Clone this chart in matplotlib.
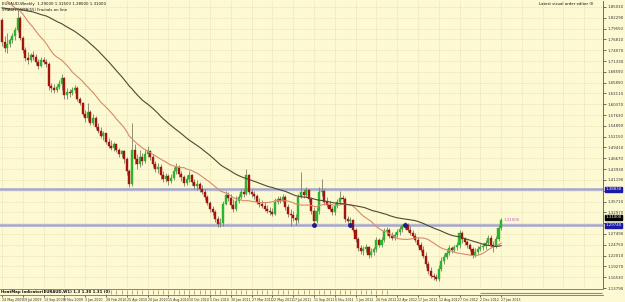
import numpy as np
import pandas as pd
import matplotlib
matplotlib.use('Agg')
import matplotlib.pyplot as plt

# weekly closes before the first visible bar (only feed the moving averages)
prior_close = [1.80, 1.81, 1.82, 1.80, 1.79, 1.81, 1.83, 1.82, 1.80, 1.79,
               1.78, 1.80, 1.82, 1.84, 1.83, 1.81, 1.80, 1.82, 1.84, 1.85,
               1.83, 1.82, 1.84, 1.86, 1.85, 1.83, 1.84, 1.86, 1.88, 1.87,
               1.85, 1.86, 1.88, 1.90, 1.89, 1.87, 1.88, 1.90, 1.91, 1.89,
               1.88, 1.90, 1.92, 1.91, 1.89, 1.88, 1.90, 1.89, 1.87, 1.86,
               1.88, 1.87, 1.85, 1.818]

close = [1.762, 1.747, 1.757, 1.767, 1.777, 1.792, 1.823, 1.772, 1.742, 1.722,
         1.717, 1.729, 1.724, 1.711, 1.701, 1.717, 1.711, 1.706, 1.651, 1.646,
         1.641, 1.648, 1.656, 1.671, 1.626, 1.636, 1.631, 1.641, 1.646, 1.618,
         1.608, 1.580, 1.568, 1.585, 1.557, 1.570, 1.547, 1.537, 1.522, 1.530,
         1.509, 1.499, 1.494, 1.502, 1.489, 1.477, 1.484, 1.464, 1.434, 1.401,
         1.489, 1.464, 1.451, 1.469, 1.459, 1.477, 1.484, 1.469, 1.451, 1.439,
         1.444, 1.424, 1.414, 1.421, 1.408, 1.416, 1.434, 1.444, 1.426, 1.419,
         1.403, 1.414, 1.424, 1.406, 1.396, 1.401, 1.388, 1.381, 1.368, 1.353,
         1.338, 1.330, 1.312, 1.300, 1.302, 1.350, 1.373, 1.366, 1.348, 1.338,
         1.358, 1.368, 1.381, 1.376, 1.424, 1.381, 1.376, 1.371, 1.355, 1.350,
         1.345, 1.338, 1.333, 1.330, 1.325, 1.355, 1.363, 1.358, 1.368, 1.343,
         1.325, 1.323, 1.315, 1.310, 1.368, 1.381, 1.373, 1.386, 1.363, 1.333,
         1.307, 1.333, 1.381, 1.383, 1.355, 1.348, 1.338, 1.330, 1.345, 1.355,
         1.366, 1.363, 1.312, 1.307, 1.310, 1.285, 1.262, 1.239, 1.232, 1.237,
         1.242, 1.222, 1.229, 1.237, 1.259, 1.247, 1.259, 1.282, 1.285, 1.270,
         1.265, 1.272, 1.280, 1.287, 1.295, 1.297, 1.285, 1.277, 1.270, 1.259,
         1.247, 1.234, 1.219, 1.199, 1.181, 1.169, 1.166, 1.161, 1.186, 1.206,
         1.217, 1.227, 1.239, 1.234, 1.242, 1.247, 1.277, 1.262, 1.254, 1.247,
         1.237, 1.222, 1.229, 1.237, 1.242, 1.244, 1.252, 1.265, 1.247, 1.244,
         1.262, 1.290, 1.310]

high = [1.823, 1.777, 1.785, 1.772, 1.785, 1.800, 1.848, 1.828, 1.777, 1.749,
        1.737, 1.734, 1.739, 1.732, 1.719, 1.724, 1.724, 1.719, 1.711, 1.658,
        1.656, 1.656, 1.666, 1.681, 1.674, 1.646, 1.643, 1.648, 1.653, 1.651,
        1.623, 1.610, 1.590, 1.608, 1.590, 1.580, 1.573, 1.555, 1.547, 1.535,
        1.532, 1.517, 1.512, 1.507, 1.504, 1.494, 1.489, 1.489, 1.469, 1.439,
        1.557, 1.502, 1.477, 1.489, 1.479, 1.489, 1.497, 1.489, 1.477, 1.459,
        1.456, 1.451, 1.434, 1.429, 1.426, 1.426, 1.444, 1.456, 1.449, 1.434,
        1.424, 1.424, 1.434, 1.426, 1.414, 1.411, 1.406, 1.398, 1.388, 1.373,
        1.358, 1.345, 1.335, 1.320, 1.315, 1.358, 1.383, 1.381, 1.376, 1.363,
        1.371, 1.376, 1.388, 1.391, 1.439, 1.426, 1.388, 1.383, 1.376, 1.366,
        1.361, 1.355, 1.348, 1.343, 1.340, 1.366, 1.371, 1.371, 1.376, 1.373,
        1.350, 1.338, 1.333, 1.325, 1.376, 1.431, 1.388, 1.393, 1.388, 1.368,
        1.343, 1.343, 1.393, 1.414, 1.388, 1.368, 1.358, 1.345, 1.353, 1.363,
        1.383, 1.373, 1.368, 1.320, 1.318, 1.312, 1.290, 1.267, 1.247, 1.244,
        1.249, 1.244, 1.239, 1.242, 1.267, 1.265, 1.267, 1.290, 1.292, 1.290,
        1.280, 1.280, 1.287, 1.295, 1.300, 1.305, 1.302, 1.295, 1.285, 1.277,
        1.267, 1.254, 1.244, 1.229, 1.206, 1.191, 1.176, 1.174, 1.196, 1.217,
        1.224, 1.237, 1.247, 1.244, 1.247, 1.254, 1.285, 1.282, 1.267, 1.259,
        1.252, 1.242, 1.239, 1.244, 1.249, 1.252, 1.259, 1.272, 1.272, 1.257,
        1.270, 1.297, 1.315]

low = [1.752, 1.737, 1.734, 1.749, 1.759, 1.767, 1.787, 1.767, 1.734, 1.714,
       1.706, 1.711, 1.717, 1.704, 1.694, 1.699, 1.706, 1.699, 1.641, 1.636,
       1.633, 1.636, 1.643, 1.641, 1.618, 1.618, 1.623, 1.626, 1.633, 1.613,
       1.603, 1.575, 1.560, 1.562, 1.550, 1.552, 1.542, 1.532, 1.517, 1.512,
       1.504, 1.494, 1.487, 1.484, 1.482, 1.469, 1.469, 1.456, 1.424, 1.393,
       1.396, 1.451, 1.439, 1.444, 1.449, 1.454, 1.469, 1.462, 1.444, 1.431,
       1.429, 1.414, 1.406, 1.406, 1.398, 1.403, 1.411, 1.426, 1.419, 1.408,
       1.396, 1.398, 1.406, 1.398, 1.388, 1.386, 1.381, 1.376, 1.361, 1.348,
       1.330, 1.323, 1.305, 1.292, 1.292, 1.295, 1.348, 1.358, 1.340, 1.330,
       1.333, 1.353, 1.363, 1.368, 1.373, 1.376, 1.368, 1.363, 1.350, 1.343,
       1.340, 1.333, 1.328, 1.323, 1.320, 1.323, 1.350, 1.353, 1.355, 1.335,
       1.318, 1.295, 1.307, 1.297, 1.302, 1.366, 1.366, 1.368, 1.355, 1.325,
       1.300, 1.302, 1.325, 1.371, 1.348, 1.343, 1.333, 1.323, 1.323, 1.340,
       1.350, 1.355, 1.305, 1.300, 1.297, 1.280, 1.254, 1.232, 1.224, 1.222,
       1.229, 1.214, 1.217, 1.222, 1.229, 1.242, 1.242, 1.254, 1.272, 1.265,
       1.259, 1.259, 1.267, 1.272, 1.280, 1.287, 1.280, 1.272, 1.265, 1.254,
       1.242, 1.229, 1.214, 1.191, 1.174, 1.164, 1.159, 1.156, 1.156, 1.181,
       1.199, 1.212, 1.222, 1.227, 1.229, 1.234, 1.239, 1.252, 1.247, 1.239,
       1.232, 1.214, 1.217, 1.224, 1.232, 1.234, 1.237, 1.247, 1.242, 1.229,
       1.239, 1.257, 1.285]

dates = pd.date_range('2009-05-24', periods=len(close), freq='W-SUN')

support_levels = [1.3883, 1.2974]
fractal_bars = [120, 134, 155]
price_ticks = [round(1.8503 - k * 0.0274, 5) for k in range(27)]

bg = '#fdf9d2'
bull, bear = '#2db42d', '#a3140f'

open_ = [prior_close[-1]] + close[:-1]
all_close = pd.Series(prior_close + close)
ma_fast = all_close.rolling(21).mean().values[len(prior_close):]
ma_slow = all_close.rolling(55).mean().values[len(prior_close):]

x = np.arange(len(close))

fig = plt.figure(figsize=(6.25, 3.02), dpi=100, facecolor=bg)
W, H = 625, 302
ax = fig.add_axes([0, 14 / H, 603 / W, 287 / H], facecolor=bg)
ax2 = fig.add_axes([0, 7 / H, 603 / W, 6 / H], facecolor=bg)

# grid
for t in price_ticks:
    ax.axhline(t, color='#d9d2a2', lw=0.5, ls=(0, (1, 1.5)), zorder=0)
for i in range(0, 240, 8):
    ax.axvline(i, color='#d9d2a2', lw=0.5, ls=(0, (1, 1.5)), zorder=0)

# support / resistance lines
for lvl in support_levels:
    ax.axhline(lvl, color='#a3a6cf', lw=1.8, zorder=1)

# candles
ax.vlines(x, low, high, color='#7c7c6a', lw=0.6, zorder=2)
o = np.array(open_)
c = np.array(close)
cols = [bull if cc >= oo else bear for oo, cc in zip(o, c)]
body = np.maximum(np.abs(c - o), 0.0008)
ax.bar(x, body, bottom=np.minimum(o, c), width=0.8, color=cols,
       edgecolor=cols, lw=0.3, zorder=3)

# moving averages
ax.plot(x, ma_fast, color='#d9896a', lw=0.8, zorder=4)
ax.plot(x, ma_slow, color='#4d4a33', lw=0.8, zorder=4)

# fractal markers on support
ax.plot(fractal_bars, [support_levels[1]] * len(fractal_bars), 'o',
        color='#1c1c8c', ms=2.5, zorder=5)

ax.set_xlim(-0.77, 231.2)
ax.set_ylim(1.1408, 1.8655)
ax.yaxis.tick_right()
ax.set_yticks(price_ticks)
# boxes on the axis cover the tick labels next to them
boxed = support_levels + [close[-1]]
ax.set_yticklabels(['' if min(abs(t - b) for b in boxed) < 0.012 else f'{t:.5f}'
                    for t in price_ticks])
ax.tick_params(axis='y', labelsize=2.8, length=2, width=0.5, pad=1,
               colors='#333333')
ax.set_xticks([])
for s in ['top', 'left', 'bottom']:
    ax.spines[s].set_visible(False)
ax.spines['right'].set_color('#555555')
ax.spines['right'].set_linewidth(0.6)

# price boxes on the axis
def axis_box(val, txt, face):
    ax.annotate(txt, xy=(1, val), xycoords=('axes fraction', 'data'),
                xytext=(1.5, 0), textcoords='offset points', fontsize=2.8,
                color='white', va='center', ha='left',
                bbox=dict(boxstyle='square,pad=0.15', fc=face, ec=face),
                annotation_clip=False)

axis_box(support_levels[0], f'{support_levels[0]:.5f}', '#1a1aa6')
axis_box(close[-1] + 0.007, f'{close[-1]:.5f}', '#000000')
axis_box(support_levels[1], f'{support_levels[1]:.5f}', '#1a1aa6')

ax.text(x[-1] + 1, close[-1], f'{close[-1]:.5f}', fontsize=2.8,
        color='#d050d0', va='center')

# header texts
ax.text(0.004, 0.996, f'EURAUD,Weekly  {open_[-1]:.5f} {high[-1]:.5f} '
        f'{low[-1]:.5f} {close[-1]:.5f}', transform=ax.transAxes,
        fontsize=2.9, va='top', ha='left', color='#111111')
ax.text(0.004, 0.974, 'SMA(21) SMA(55) Fractals on line', transform=ax.transAxes,
        fontsize=2.8, va='top', ha='left', color='#111111')
ax.text(0.985, 0.996, 'Latest visual order editor (I)', transform=ax.transAxes,
        fontsize=2.8, va='top', ha='right', color='#111111')

# indicator strip
ax2.set_xlim(-0.77, 231.2)
ax2.set_ylim(0, 1)
ax2.vlines(x[40:150:2], 0.2, 0.8, color='#8a6a3a', lw=0.4)
ax2.hlines(0.4, 184, 231, color='#8c8c9c', lw=0.8)
ax2.text(0.002, 0.5, 'HeatMap Indicator(EURAUD,W1) 1.3 1.30 1.31 (0)',
         transform=ax2.transAxes, fontsize=2.8, va='center', ha='left',
         color='#111111', fontweight='bold',
         bbox=dict(boxstyle='square,pad=0.1', fc=bg, ec='none'))
ax2.set_yticks([])
tick_pos = list(range(0, len(close), 8))
ax2.set_xticks(tick_pos)
ax2.set_xticklabels([dates[i].strftime('%-d %b %Y') for i in tick_pos],
                    fontsize=2.3, ha='left', color='#333333')
ax2.tick_params(axis='x', length=1.5, width=0.4, pad=0.8)
for s in ['left', 'right']:
    ax2.spines[s].set_visible(False)
for s in ['top', 'bottom']:
    ax2.spines[s].set_color('#555555')
    ax2.spines[s].set_linewidth(0.5)

fig.savefig('out.png', dpi=100, facecolor=bg)
